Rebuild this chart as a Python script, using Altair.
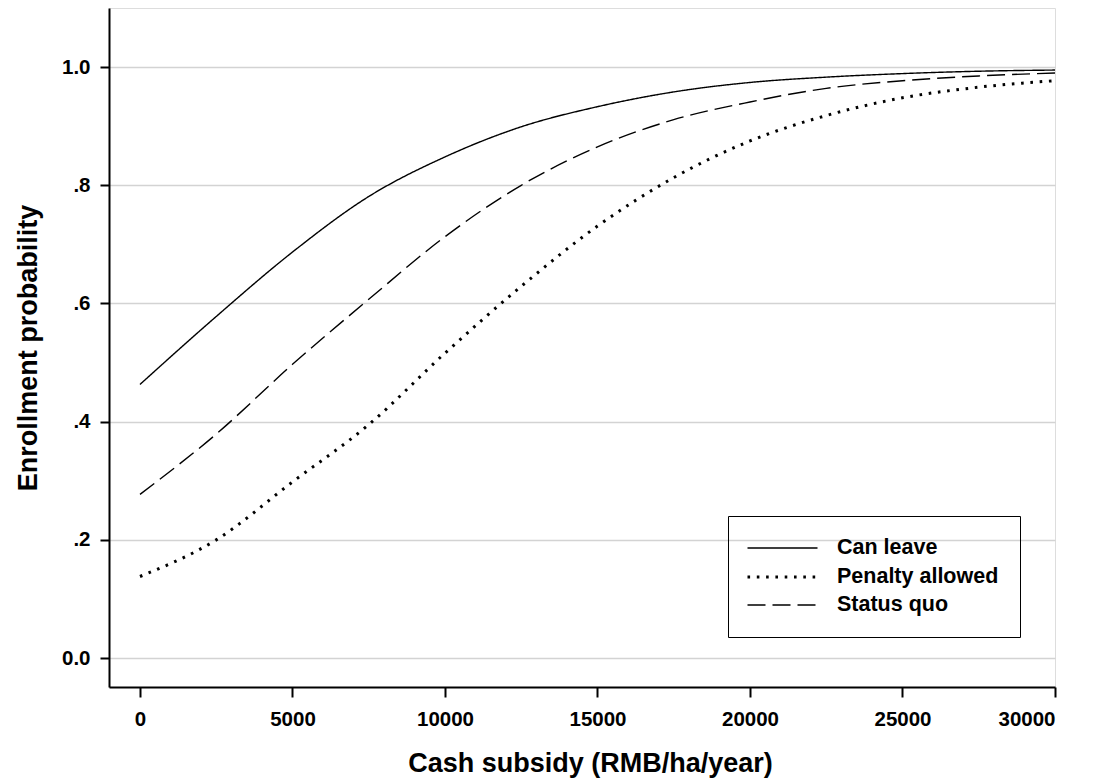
import altair as alt
import pandas as pd

# Predicted enrollment probability by cash subsidy for three contract designs
subsidy = [0, 2500, 5000, 7500, 10000, 12500, 15000, 17500, 20000, 22500, 25000, 27500, 30000]
can_leave = [0.463, 0.578, 0.687, 0.781, 0.848, 0.899, 0.933, 0.958, 0.974, 0.983, 0.989, 0.993, 0.995]
penalty_allowed = [0.138, 0.200, 0.298, 0.395, 0.516, 0.629, 0.731, 0.813, 0.875, 0.918, 0.948, 0.966, 0.977]
status_quo = [0.277, 0.379, 0.497, 0.607, 0.713, 0.800, 0.865, 0.911, 0.941, 0.964, 0.977, 0.985, 0.990]

series_names = ["Can leave", "Penalty allowed", "Status quo"]
series_values = [can_leave, penalty_allowed, status_quo]
y_ticks = [0.0, 0.2, 0.4, 0.6, 0.8, 1.0]
x_ticks = [0, 5000, 10000, 15000, 20000, 25000, 30000]

rows = []
for name, vals in zip(series_names, series_values):
    for x, y in zip(subsidy, vals):
        rows.append({"subsidy": x, "prob": y, "scenario": name})
df = pd.DataFrame(rows)

FONT = "Liberation Sans"

# Legend key: a 70px horizontal stroke (path is scaled by sqrt(size)/2 = 10)
LEGEND_KEY = "M-1.3,0H5.7"

legend = alt.Legend(
    title=None,
    orient="none",
    legendX=619,
    legendY=508,
    symbolType=LEGEND_KEY,
    symbolSize=400,
    symbolStrokeColor="black",
    labelFont=FONT,
    labelFontSize=21.5,
    labelFontWeight="bold",
    labelColor="black",
    labelOffset=65,
    labelLimit=400,
    padding=21,
    strokeColor="black",
    rowPadding=6.5,
)

chart = (
    alt.Chart(df)
    .mark_line(color="black", interpolate="monotone", strokeCap="butt")
    .encode(
        x=alt.X(
            "subsidy:Q",
            scale=alt.Scale(domain=[-1016, 30000], nice=False, zero=False),
            axis=alt.Axis(
                values=x_ticks,
                format="d",
                title="Cash subsidy (RMB/ha/year)",
                titleX=481,
                grid=False,
                tickSize=10,
                tickWidth=2,
                domainWidth=2,
                domainColor="black",
                tickColor="black",
                labelFont=FONT,
                labelFontSize=20.5,
                labelFontWeight="bold",
                labelColor="black",
                labelPadding=12,
                titleFont=FONT,
                titleFontSize=27,
                titleFontWeight="bold",
                titleColor="black",
                titlePadding=21,
            ),
        ),
        y=alt.Y(
            "prob:Q",
            scale=alt.Scale(domain=[-0.049, 1.1], nice=False, zero=False),
            axis=alt.Axis(
                values=y_ticks,
                labelExpr="datum.value == 0 ? '0.0' : datum.value == 1 ? '1.0' : replace(format(datum.value, '.1f'), '0.', '.')",
                title="Enrollment probability",
                grid=True,
                gridColor="#d3d3d3",
                gridWidth=1.5,
                tickSize=9,
                tickWidth=2,
                domainWidth=2,
                domainColor="black",
                tickColor="black",
                labelFont=FONT,
                labelFontSize=20.5,
                labelFontWeight="bold",
                labelColor="black",
                labelPadding=10,
                titleFont=FONT,
                titleFontSize=27,
                titleFontWeight="bold",
                titleColor="black",
                titlePadding=19,
            ),
        ),
        strokeDash=alt.StrokeDash(
            "scenario:N",
            scale=alt.Scale(
                domain=series_names,
                range=[[1, 0], [2.6, 6.7], [18, 7]],
            ),
            legend=legend,
        ),
        strokeWidth=alt.StrokeWidth(
            "scenario:N",
            scale=alt.Scale(type="ordinal", domain=series_names, range=[1.4, 3.0, 1.4]),
            legend=legend,
        ),
    )
    .properties(
        width=946,
        height=679,
        padding={"left": 109, "top": 8, "right": 46, "bottom": 93},
        autosize=alt.AutoSizeParams(type="none"),
    )
    .configure_view(stroke=None)
    .configure(background="white")
)

chart.save("out.html", embed_options={"renderer": "svg", "actions": False})
